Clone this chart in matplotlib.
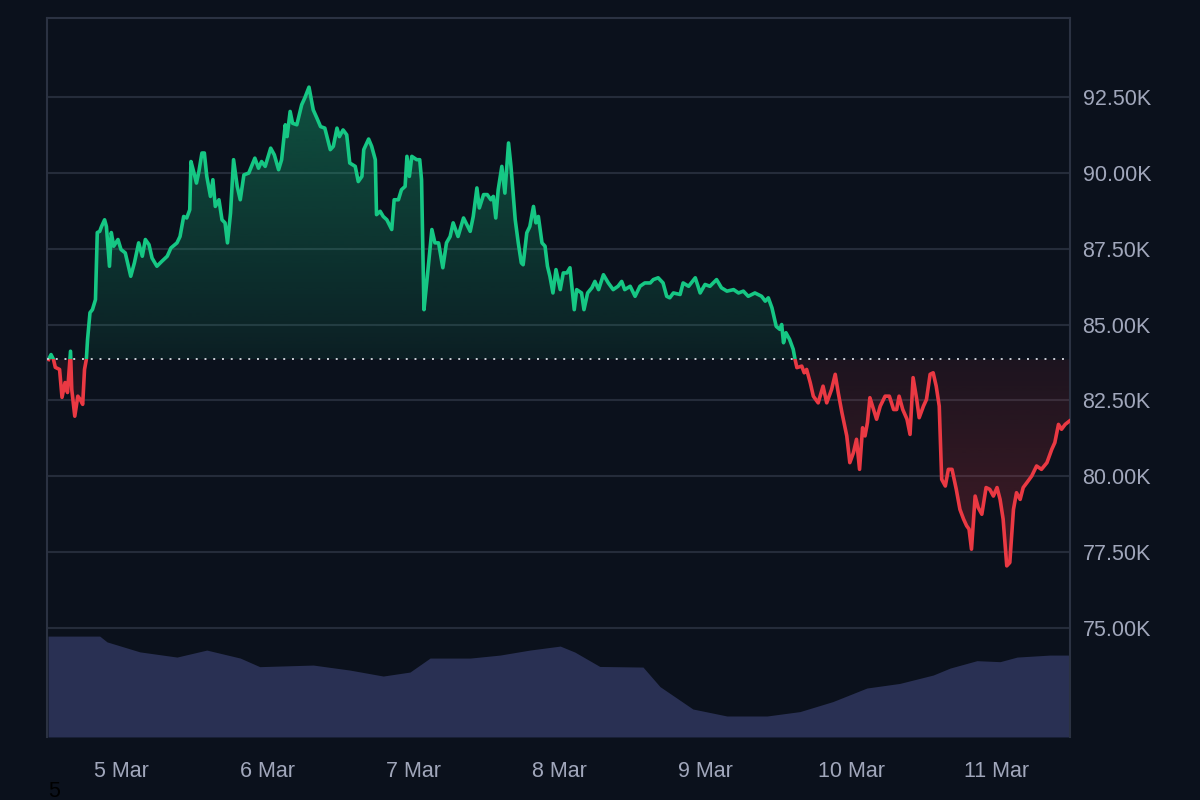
import numpy as np
import matplotlib
matplotlib.use("Agg")
import matplotlib.pyplot as plt
from matplotlib.colors import to_rgb
from matplotlib.patches import Rectangle
from matplotlib.ticker import FuncFormatter

plt.rcParams['font.family'] = ['Liberation Sans', 'DejaVu Sans']

# price, hours counted from 4 Mar 00:00
hours = [12.1, 12.5, 12.9, 13.2, 13.9, 14.3, 14.8, 15.2, 15.7, 15.9, 16.4, 16.9, 17.3, 17.7,
         18.0, 18.3, 18.5, 18.9, 19.3, 19.8, 20.1, 20.5, 20.8, 21.3, 21.6, 22.1, 22.4, 22.8,
         23.5, 24.0, 24.7, 25.6, 26.2, 26.9, 27.5, 28.0, 28.6, 29.1, 29.9, 30.7, 31.6, 32.2,
         33.2, 33.7, 34.3, 34.8, 35.3, 35.5, 36.0, 36.4, 36.8, 37.3, 37.7, 38.1, 38.7, 39.1,
         39.5, 40.1, 40.6, 41.1, 41.5, 42.0, 42.5, 43.1, 43.6, 44.2, 45.0, 46.0, 46.6, 47.1,
         47.7, 48.6, 49.2, 49.9, 50.4, 51.0, 51.3, 51.8, 52.2, 52.9, 53.7, 54.2, 54.9, 55.6,
         56.2, 56.8, 57.5, 58.4, 58.9, 59.5, 59.9, 60.5, 61.1, 61.6, 62.5, 63.0, 63.6, 63.9,
         64.7, 65.2, 65.8, 66.0, 66.6, 67.1, 67.7, 68.5, 68.9, 69.6, 70.1, 70.7, 71.0, 71.4,
         71.8, 72.6, 73.1, 73.4, 73.8, 74.3, 75.1, 75.6, 76.2, 76.9, 77.5, 78.1, 78.6, 79.4,
         80.3, 81.4, 81.9, 82.5, 82.9, 83.6, 84.2, 84.8, 85.2, 85.6, 86.0, 86.6, 87.1, 87.7,
         88.1, 88.5, 88.8, 89.3, 89.8, 90.1, 90.7, 91.2, 91.8, 92.2, 92.6, 93.2, 93.7, 94.1,
         94.5, 95.0, 95.5, 96.2, 96.7, 97.3, 97.8, 98.5, 98.9, 99.7, 100.1, 100.7, 101.4, 101.9,
         102.5, 103.3, 104.1, 104.9, 105.7, 106.3, 106.8, 107.7, 108.5, 109.3, 110.1, 111.0,
         111.5, 112.3, 113.1, 113.7, 114.2, 114.8, 115.9, 116.4, 117.3, 118.4, 119.2, 120.0,
         120.8, 121.9, 122.7, 123.6, 124.7, 125.5, 126.3, 127.1, 128.2, 129.3, 129.9, 130.4,
         131.0, 131.7, 132.3, 132.6, 132.9, 133.3, 133.9, 134.5, 134.8, 135.1, 135.9, 136.3,
         136.7, 137.3, 137.8, 138.6, 139.4, 140.0, 140.8, 141.4, 141.9, 142.5, 143.3, 143.8,
         144.4, 144.9, 145.4, 145.9, 146.3, 146.7, 147.1, 147.7, 148.2, 148.8, 149.6, 150.3,
         151.0, 151.5, 151.9, 152.5, 153.2, 153.7, 154.2, 154.8, 155.2, 155.9, 156.4, 157.0,
         157.5, 158.0, 158.5, 158.9, 159.5, 160.0, 160.6, 161.3, 161.9, 162.5, 163.0, 163.4,
         163.8, 164.4, 164.9, 165.5, 166.2, 166.8, 167.4, 168.0, 168.5, 169.0, 169.6, 170.1,
         170.7, 171.2, 171.8, 172.3, 172.9, 173.7, 174.5, 175.3, 176.2, 177.0, 177.5, 178.1,
         178.6, 179.2, 179.9]
prices = [83850, 84010, 83850, 83590, 83520, 82600, 83090, 82760, 84120, 82860, 81980, 82640, 82530, 82370,
          83520, 83850, 84510, 85390, 85490, 85820, 88030, 88070, 88230, 88450, 88230, 86920, 88030, 87580,
          87800, 87470, 87360, 86590, 87030, 87690, 87250, 87800, 87630, 87190, 86920, 87080, 87250, 87520,
          87690, 87900, 88560, 88510, 88780, 90370, 89990, 89660, 90040, 90650, 90650, 89880, 89220, 89770,
          88890, 89110, 88450, 88350, 87690, 88670, 90430, 89550, 89110, 89930, 89990, 90480, 90150, 90370,
          90210, 90810, 90590, 90100, 90430, 91580, 91190, 92020, 91630, 91580, 92240, 92460, 92820, 92070,
          91800, 91520, 91470, 90760, 90870, 91470, 91190, 91410, 91250, 90320, 90210, 89710, 89880, 90760,
          91110, 90870, 90430, 88620, 88730, 88560, 88450, 88130, 89110, 89110, 89440, 89550, 90540, 89880,
          90540, 90430, 90430, 89770, 85490, 86480, 88130, 87690, 87690, 86870, 87690, 87900, 88350, 87900,
          88510, 88070, 88560, 89500, 88840, 89280, 89280, 89110, 89220, 88510, 89440, 90210, 89330, 90980,
          90210, 89220, 88450, 87690, 87030, 86970, 88020, 88230, 88890, 88350, 88560, 87690, 87580, 86920,
          86590, 86040, 86810, 86150, 86700, 86700, 86870, 85490, 86150, 86040, 85490, 86040, 86210, 86420,
          86150, 86640, 86370, 86150, 86260, 86420, 86150, 86260, 85930, 86260, 86370, 86370,
          86480, 86540, 86370, 85930, 85880, 86040, 85990, 86370, 86260, 86540, 86040, 86320,
          86260, 86480, 86210, 86100, 86150, 86040, 86100, 85930, 86040, 85930, 85770, 85880,
          85550, 84940, 84840, 85000, 84400, 84730, 84510, 84180, 83850, 83580, 83630, 83410,
          83520, 83080, 82640, 82420, 82970, 82420, 82860, 83360, 82750, 82100, 81330, 80450,
          80780, 81220, 80230, 81600, 81330, 81770, 82590, 82200, 81880, 82310, 82640, 82640,
          82200, 82200, 82640, 82200, 81880, 81380, 83250, 82530, 81930, 82310, 82530, 83360,
          83410, 82970, 82310, 79900, 79680, 80230, 80230, 79570, 78910, 78590, 78370, 78260,
          77600, 79350, 78970, 78750, 79630, 79570, 79350, 79630, 79240, 78590, 77050, 77160,
          78910, 79460, 79240, 79630, 79790, 80010, 80340, 80230, 80450, 80890, 81110, 81710,
          81550, 81710, 81820]

# 24h volume, billions USD
vol_hours = [12.0, 20.5, 21.7, 27.1, 33.2, 38.1, 43.6, 46.8, 55.6, 61.6, 67.1, 71.5, 74.8, 81.4,
             86.3, 91.2, 96.2, 98.6, 102.7, 109.8, 112.6, 118.0, 123.6, 130.2, 135.6, 141.0,
             146.6, 152.0, 157.5, 160.3, 164.7, 168.5, 171.3, 176.7, 180.0]
volume = [50.5, 50.5, 47.6, 42.6, 40.0, 43.5, 39.5, 35.2, 36.0, 33.5, 30.5, 32.5, 39.5, 39.5,
          41.0, 43.5, 45.5, 42.5, 35.3, 35.0, 25.2, 14.0, 10.5, 10.5, 12.7, 17.7,
          24.5, 26.8, 31.0, 34.5, 38.2, 37.7, 40.0, 41.0, 41.0]

day_ticks = [24, 48, 72, 96, 120, 144, 168]
day_labels = ['5 Mar', '6 Mar', '7 Mar', '8 Mar', '9 Mar', '10 Mar', '11 Mar']
price_ticks = [75000, 77500, 80000, 82500, 85000, 87500, 90000, 92500]

bg = '#0b111c'
grid_c = '#252c3a'
green = '#16c784'
red = '#ea3943'
text_c = '#a1a7bb'

t = np.array(hours)
p = np.array(prices)
base = p[0]
x0, x1 = 11.84, 180.0
y0, y1 = 71414, 95100

fig = plt.figure(figsize=(12, 8), dpi=100, facecolor=bg)
ax = fig.add_axes([0.0392, 0.0788, 0.8525, 0.8988])
vax = ax.twinx()
vax.set_zorder(ax.get_zorder() - 1)
ax.patch.set_visible(False)
vax.patch.set_facecolor(bg)

# volume
vax.fill_between(vol_hours, 0, volume, color='#293053', lw=0)
vax.set_ylim(0, 360)
vax.set_yticks([])
for s in vax.spines.values():
    s.set_visible(False)


def gradient_fill(lower, upper, color, ya, yb, aa, ab):
    poly = ax.fill_between(t, lower, upper, facecolor='none', edgecolor='none')
    path = poly.get_paths()[0]
    rgba = np.zeros((256, 1, 4))
    rgba[..., :3] = to_rgb(color)
    rgba[:, 0, 3] = np.linspace(aa, ab, 256)
    im = ax.imshow(rgba, extent=[t[0], t[-1], ya, yb], origin='lower',
                   aspect='auto', zorder=1, interpolation='bilinear')
    im.set_clip_path(path, transform=ax.transData)


gradient_fill(base, np.maximum(p, base), green, base, 93000, 0.08, 0.36)
gradient_fill(np.minimum(p, base), base, red, 77000, base, 0.25, 0.08)

up, = ax.plot(t, p, color=green, lw=2.6, zorder=3, solid_joinstyle='round')
up.set_clip_path(Rectangle((x0, base), x1 - x0, y1 - base, transform=ax.transData))
down, = ax.plot(t, p, color=red, lw=2.6, zorder=3, solid_joinstyle='round')
down.set_clip_path(Rectangle((x0, y0), x1 - x0, base - y0, transform=ax.transData))

ax.axhline(base, color='#c8ccd4', lw=1.4, ls=(0, (1, 3.5)), zorder=4)

ax.set_xlim(x0, x1)
ax.set_ylim(y0, y1)
ax.yaxis.tick_right()
ax.set_yticks(price_ticks)
ax.yaxis.set_major_formatter(FuncFormatter(lambda v, _: f'{v / 1000:.2f}K'))
ax.set_xticks(day_ticks)
ax.set_xticklabels(day_labels)
ax.tick_params(axis='both', length=0, colors=text_c, labelsize=15.5)
ax.tick_params(axis='y', pad=9)
ax.tick_params(axis='x', pad=17)
ax.grid(axis='y', color=grid_c, lw=1.5)
ax.set_axisbelow(True)
for side in ['top', 'left', 'right']:
    ax.spines[side].set_color('#2b3242')
    ax.spines[side].set_linewidth(1.5)
ax.spines['bottom'].set_visible(False)

fig.text(0.04, 0.004, '5', color='#000000', fontsize=15.5)

fig.savefig('out.png', dpi=100, facecolor=bg)
